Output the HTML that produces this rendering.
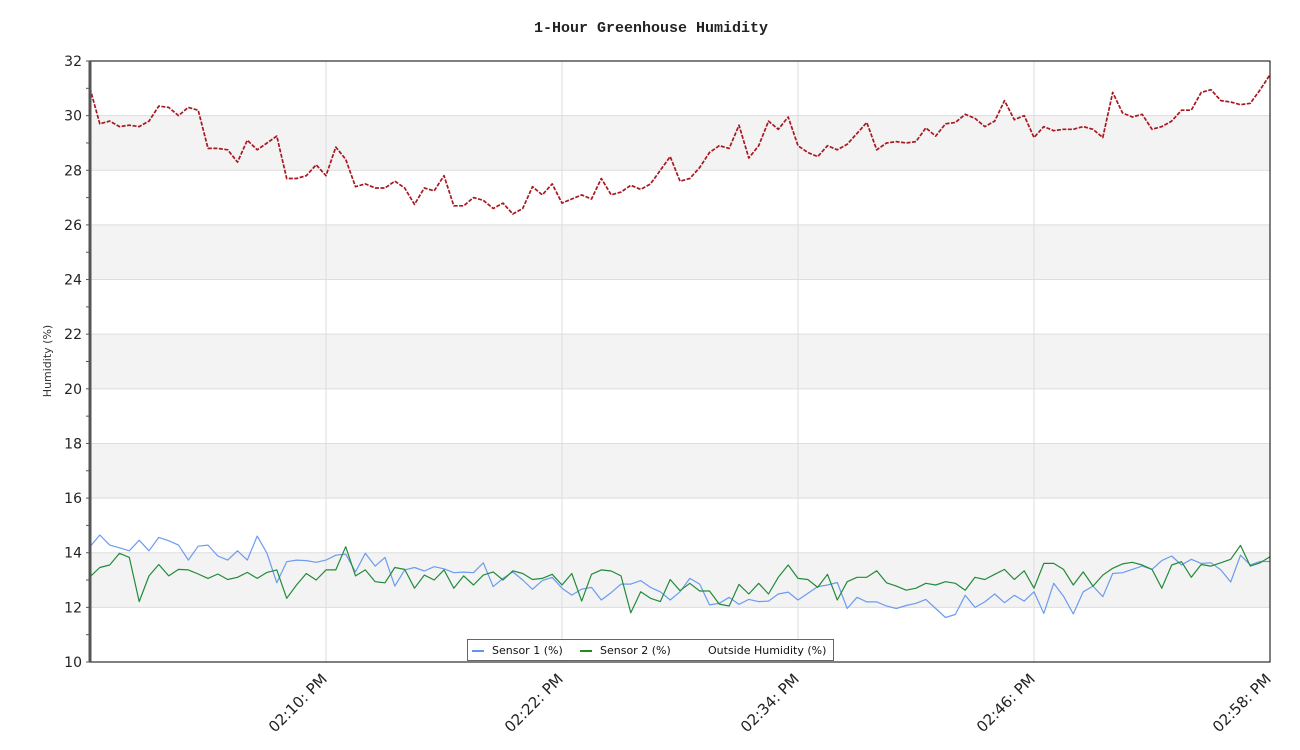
<!DOCTYPE html>
<html><head><meta charset="utf-8"><style>
html,body{margin:0;padding:0;background:#fff;}
svg{display:block;}
</style></head><body>
<svg id="chart" width="1300" height="750" xmlns="http://www.w3.org/2000/svg">
<text x="651" y="32" text-anchor="middle" font-family="Liberation Mono, monospace" font-size="15" font-weight="bold" fill="#222">1-Hour Greenhouse Humidity</text>
<text transform="translate(51,361) rotate(-90)" text-anchor="middle" font-family="DejaVu Sans, sans-serif" font-size="11" fill="#333">Humidity (%)</text>
<g id="bands"></g><g id="grid"></g><g id="yticks"></g><g id="xticks"></g><g id="series"></g>
<rect x="90" y="61" width="1180" height="601" fill="none" stroke="#000" stroke-width="1"/>
<line x1="90" y1="61" x2="90" y2="662" stroke="#555" stroke-width="3"/>
<g>
<rect x="467.5" y="639.5" width="366" height="21" fill="#fff" stroke="#666"/>
<line x1="472" y1="651" x2="484" y2="651" stroke="#6495ed" stroke-width="2"/>
<text x="492" y="654" font-family="DejaVu Sans, sans-serif" font-size="11" fill="#111">Sensor 1 (%)</text>
<line x1="580" y1="651" x2="592" y2="651" stroke="#228b22" stroke-width="2"/>
<text x="600" y="654" font-family="DejaVu Sans, sans-serif" font-size="11" fill="#111">Sensor 2 (%)</text>
<text x="708" y="654" font-family="DejaVu Sans, sans-serif" font-size="11" fill="#111">Outside Humidity (%)</text>
</g>
</svg>
<script>
const yTicks=[10,12,14,16,18,20,22,24,26,28,30,32];
const xTickMinutes=[12,24,36,48,60];
const xTickLabels=["02:10: PM","02:22: PM","02:34: PM","02:46: PM","02:58: PM"];
const outside=[31.0,29.7,29.8,29.6,29.65,29.6,29.8,30.35,30.3,30.0,30.3,30.2,28.8,28.8,28.75,28.3,29.1,28.75,29.0,29.25,27.7,27.7,27.8,28.2,27.8,28.85,28.4,27.4,27.5,27.35,27.35,27.6,27.35,26.75,27.35,27.25,27.8,26.7,26.7,27.0,26.9,26.6,26.8,26.4,26.6,27.4,27.1,27.5,26.8,26.95,27.1,26.95,27.7,27.1,27.2,27.45,27.3,27.5,28.0,28.5,27.6,27.7,28.1,28.65,28.9,28.8,29.65,28.45,28.9,29.8,29.5,29.95,28.9,28.65,28.5,28.9,28.75,28.95,29.35,29.75,28.75,29.0,29.05,29.0,29.05,29.55,29.25,29.7,29.75,30.05,29.9,29.6,29.8,30.55,29.85,30.0,29.2,29.6,29.45,29.5,29.5,29.6,29.5,29.2,30.85,30.1,29.95,30.05,29.5,29.6,29.8,30.2,30.2,30.85,30.95,30.55,30.5,30.4,30.45,30.95,31.5];
const sensor1=[14.22,14.65,14.28,14.18,14.07,14.46,14.07,14.56,14.44,14.28,13.73,14.24,14.28,13.88,13.73,14.07,13.73,14.61,13.98,12.90,13.67,13.73,13.71,13.65,13.73,13.91,13.95,13.30,13.98,13.51,13.83,12.78,13.37,13.46,13.33,13.49,13.41,13.27,13.29,13.27,13.63,
12.76,13.06,13.30,13.0,12.66,12.98,13.10,12.70,12.45,12.67,12.73,12.27,12.54,12.85,12.85,12.98,12.73,12.57,12.27,12.57,13.06,12.85,12.09,12.15,12.37,12.11,12.29,12.21,12.23,12.49,12.56,12.27,12.51,12.76,12.82,12.91,11.96,12.37,12.20,12.20,
12.05,11.96,12.07,12.15,12.29,11.96,11.63,11.74,12.44,12.0,12.20,12.49,12.17,12.44,12.23,12.57,11.78,12.88,12.41,11.76,12.57,12.78,12.39,13.24,13.27,13.39,13.51,13.39,13.71,13.88,13.55,13.76,13.61,13.63,13.37,12.93,13.91,13.55,13.68,13.68];
const sensor2=[13.12,13.46,13.55,13.98,13.83,12.21,13.15,13.57,13.15,13.39,13.37,13.22,13.06,13.22,13.02,13.10,13.28,13.06,13.28,13.37,12.33,12.82,13.24,13.0,13.37,13.37,14.22,13.15,13.37,12.94,12.90,13.46,13.39,12.70,13.18,13.0,13.37,12.70,13.15,12.82,13.18,
13.30,13.0,13.34,13.24,13.02,13.06,13.21,12.82,13.24,12.23,13.21,13.37,13.33,13.15,11.80,12.57,12.33,12.21,13.02,12.61,12.88,12.60,12.60,12.12,12.05,12.84,12.49,12.88,12.49,13.10,13.55,13.06,13.02,12.73,13.21,12.27,12.94,13.10,13.10,13.34,
12.90,12.78,12.63,12.70,12.88,12.82,12.94,12.88,12.63,13.10,13.02,13.21,13.39,13.02,13.34,12.70,13.61,13.61,13.39,12.82,13.30,12.78,13.18,13.43,13.59,13.65,13.55,13.39,12.70,13.55,13.67,13.10,13.57,13.51,13.63,13.76,14.27,13.51,13.63,13.85];

const NS="http://www.w3.org/2000/svg";
const L=90,R=1270,T=61,B=662,yMin=10,yMax=32,tMax=60;
const yS=v=>B-(v-yMin)/(yMax-yMin)*(B-T);
const xS=m=>L+m/tMax*(R-L);
function mk(tag,attrs,parent){const e=document.createElementNS(NS,tag);for(const k in attrs)e.setAttribute(k,attrs[k]);document.getElementById(parent).appendChild(e);return e;}
for(let v=12;v<32;v+=4){
  const r=mk('rect',{x:L,y:yS(v+2),width:R-L,height:yS(v)-yS(v+2),fill:'#f3f3f3'},'bands');
  
  
}
yTicks.forEach(v=>{
  if(v>yMin&&v<yMax){const g=mk('line',{x1:L,x2:R,y1:yS(v),y2:yS(v),stroke:'#dddddd'},'grid');
  
  }
  const t=mk('text',{x:82,y:yS(v)+5,'text-anchor':'end','font-family':'DejaVu Sans, sans-serif','font-size':'14',fill:'#222'},'yticks');
  t.textContent=v;
  
  
});
for(let v=yMin;v<=yMax;v+=1){const m=mk('line',{x1:L-4,x2:L,y1:yS(v),y2:yS(v),stroke:'#555'},'yticks');
  
  }
xTickMinutes.forEach((m,i)=>{
  const x=xS(m);
  if(m<tMax){const g=mk('line',{x1:x,x2:x,y1:T,y2:B,stroke:'#dddddd'},'grid');
  
  }
  const t=mk('text',{transform:`translate(${x+2},${B+18}) rotate(-45)`,'text-anchor':'end','font-family':'DejaVu Sans, sans-serif','font-size':'15',fill:'#222'},'xticks');
  t.textContent=xTickLabels[i];
  
  
});
function line(data,color,w,dash,name){
  const pts=data.map((v,i)=>xS(i/(data.length-1)*tMax).toFixed(1)+','+yS(v).toFixed(1)).join(' ');
  const a={points:pts,fill:'none',stroke:color,'stroke-width':w,'stroke-linejoin':'round'};
  if(dash)a['stroke-dasharray']=dash;
  const p=mk('polyline',a,'series');
  
  
}
line(sensor1,'#6d9bf0',1.2,null,'sensor1-line');
line(sensor2,'#228b3a',1.2,null,'sensor2-line');
line(outside,'#a81820',1.7,'4,1.5','outside-humidity-line');
</script>
</body></html>
